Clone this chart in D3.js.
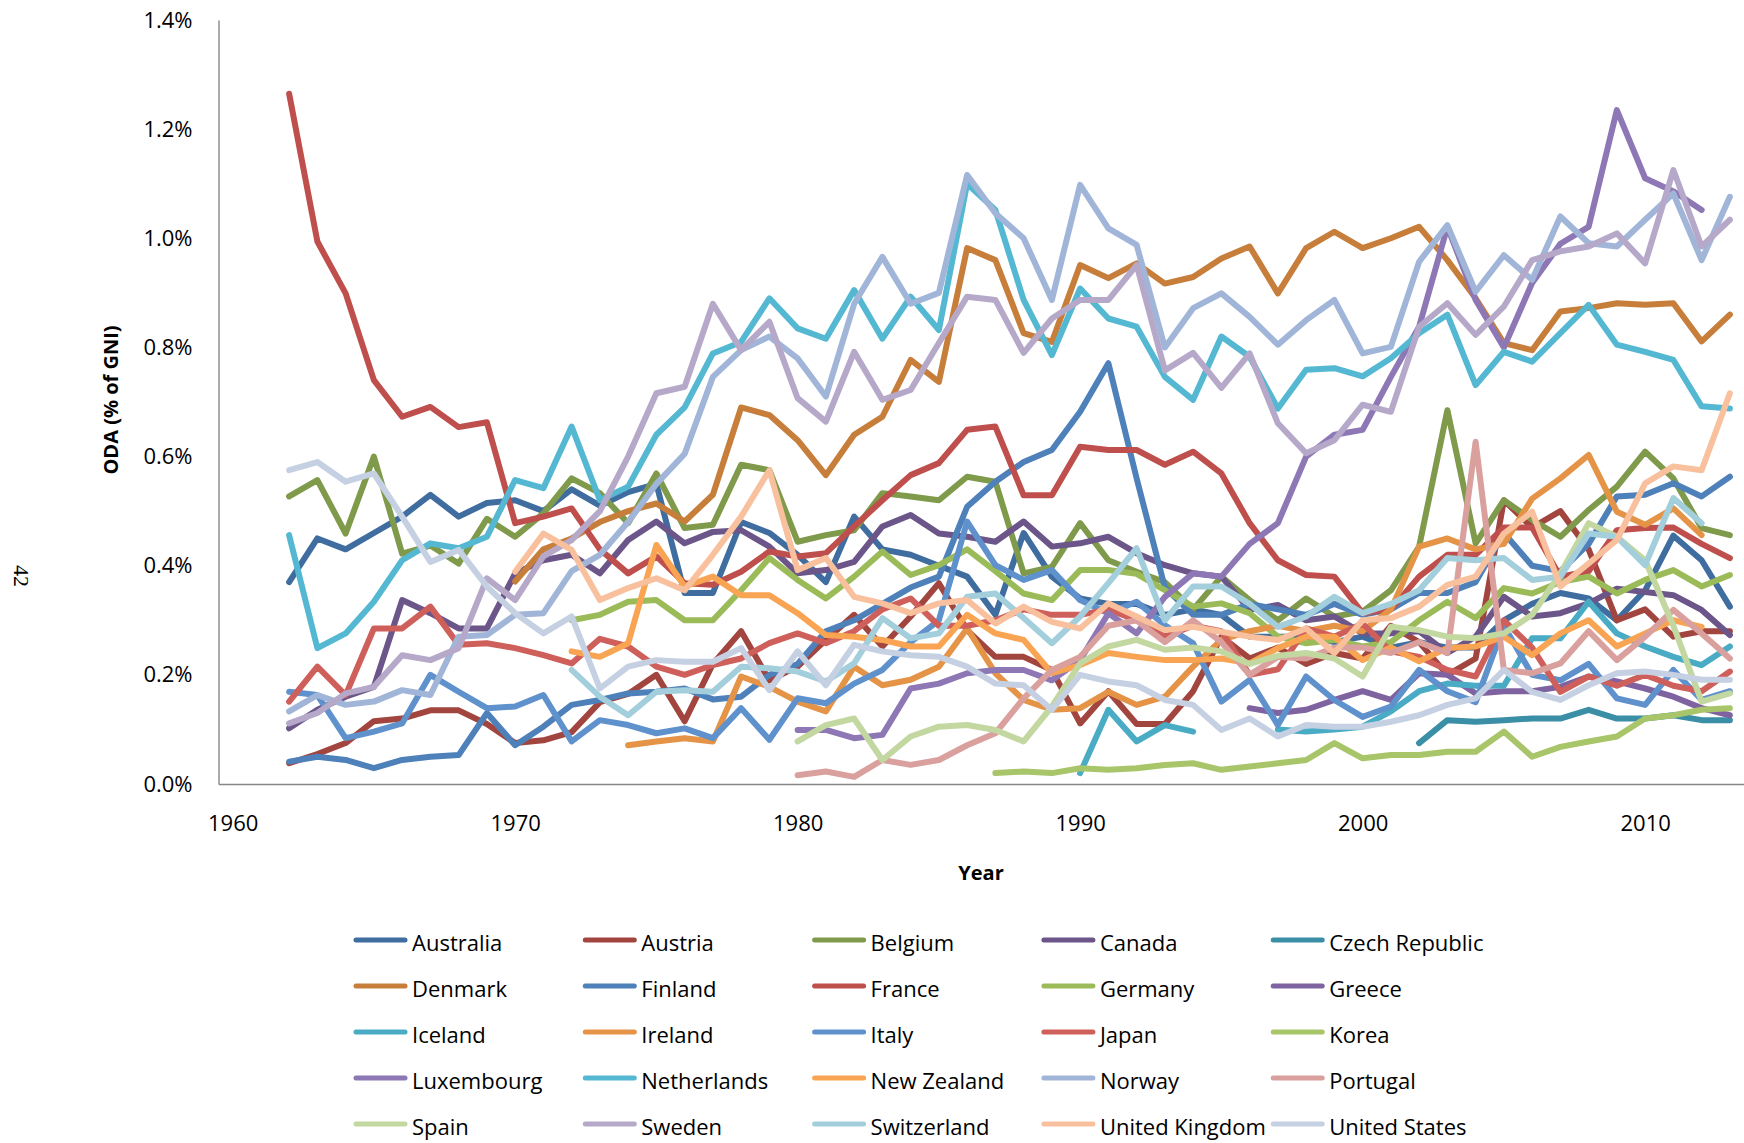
<!DOCTYPE html>
<html>
<head>
<meta charset="utf-8">
<script src="https://cdn.jsdelivr.net/npm/d3@7"></script>
<style>
  body { margin: 0; background: #ffffff; }
  svg { display: block; }
  text { font-family: "Open Sans", "Noto Sans", sans-serif; fill: #000; }
</style>
</head>
<body>
<svg id="chart" width="1744" height="1143"></svg>
<script>
// Net ODA as a share of GNI (%), DAC donors, 1960-2013. null = no data.
const years = [1960,1961,1962,1963,1964,1965,1966,1967,1968,1969,
               1970,1971,1972,1973,1974,1975,1976,1977,1978,1979,
               1980,1981,1982,1983,1984,1985,1986,1987,1988,1989,
               1990,1991,1992,1993,1994,1995,1996,1997,1998,1999,
               2000,2001,2002,2003,2004,2005,2006,2007,2008,2009,
               2010,2011,2012,2013];

const australia = [null,null,0.37,0.45,0.43,0.46,0.49,0.53,0.49,0.515,
  0.52,0.50,0.54,0.51,0.535,0.55,0.35,0.35,0.48,0.46,
  0.42,0.37,0.49,0.43,0.42,0.40,0.38,0.31,0.46,0.38,
  0.34,0.33,0.33,0.31,0.32,0.31,0.27,0.27,0.27,0.26,
  0.27,0.25,0.26,0.25,0.25,0.30,0.33,0.35,0.34,0.30,
  0.355,0.455,0.41,0.325];
const austria = [null,null,0.038,0.055,0.075,0.115,0.12,0.135,0.135,0.11,
  0.075,0.08,0.095,0.15,0.165,0.20,0.115,0.22,0.28,0.19,
  0.215,0.264,0.31,0.252,0.307,0.368,0.282,0.233,0.233,0.209,
  0.111,0.17,0.11,0.11,0.17,0.27,0.23,0.25,0.22,0.24,
  0.23,0.29,0.26,0.20,0.23,0.52,0.47,0.50,0.43,0.30,
  0.32,0.27,0.28,0.28];
const belgium = [null,null,0.527,0.557,0.459,0.60,0.422,0.437,0.404,0.486,
  0.453,0.496,0.56,0.533,0.478,0.569,0.469,0.475,0.585,0.575,
  0.444,0.456,0.465,0.533,0.527,0.52,0.563,0.554,0.386,0.398,
  0.478,0.41,0.389,0.37,0.32,0.38,0.337,0.30,0.34,0.307,
  0.316,0.355,0.435,0.685,0.441,0.52,0.484,0.453,0.502,0.545,
  0.609,0.56,0.469,0.456];
const canada = [null,null,0.102,0.136,0.16,0.178,0.337,0.313,0.285,0.285,
  0.386,0.41,0.42,0.386,0.447,0.481,0.441,0.462,0.465,0.435,
  0.386,0.392,0.407,0.472,0.493,0.459,0.453,0.444,0.481,0.435,
  0.441,0.453,0.423,0.401,0.386,0.38,0.319,0.328,0.30,0.307,
  0.276,0.276,0.28,0.24,0.27,0.343,0.307,0.313,0.331,0.358,
  0.352,0.346,0.319,0.273];
const czechRepublic = [null,null,null,null,null,null,null,null,null,null,
  null,null,null,null,null,null,null,null,null,null,
  null,null,null,null,null,null,null,null,null,null,
  null,null,null,null,null,null,null,null,null,null,
  null,null,0.075,0.117,0.114,0.117,0.12,0.12,0.136,0.12,
  0.12,0.126,0.117,0.117];
const denmark = [null,null,null,null,null,null,null,null,null,null,
  0.371,0.43,0.45,0.48,0.50,0.514,0.481,0.53,0.69,0.676,
  0.63,0.566,0.64,0.673,0.777,0.737,0.982,0.96,0.826,0.81,
  0.951,0.927,0.954,0.917,0.929,0.963,0.985,0.899,0.982,1.012,
  0.982,1.0,1.021,0.96,0.89,0.808,0.795,0.866,0.872,0.881,
  0.878,0.881,0.811,0.86];
const finland = [null,null,0.041,0.05,0.044,0.029,0.044,0.05,0.053,0.13,
  0.071,0.105,0.145,0.154,0.166,0.169,0.175,0.155,0.16,0.20,
  0.22,0.28,0.30,0.33,0.36,0.38,0.508,0.554,0.59,0.612,
  0.682,0.771,0.56,0.36,0.31,0.31,0.33,0.32,0.31,0.33,
  0.31,0.32,0.35,0.35,0.37,0.46,0.40,0.39,0.44,0.527,
  0.53,0.551,0.527,0.563];
const france = [null,null,1.265,0.994,0.899,0.74,0.673,0.691,0.654,0.663,
  0.478,0.49,0.505,0.43,0.386,0.417,0.368,0.365,0.389,0.426,
  0.417,0.423,0.472,0.52,0.566,0.588,0.649,0.655,0.529,0.529,
  0.618,0.612,0.612,0.585,0.609,0.569,0.478,0.41,0.383,0.38,
  0.313,0.32,0.38,0.42,0.42,0.47,0.47,0.38,0.39,0.465,
  0.469,0.47,0.44,0.414];
const germany = [null,null,null,null,null,null,null,null,null,null,
  null,null,0.30,0.31,0.334,0.337,0.30,0.30,0.355,0.414,
  0.374,0.34,0.38,0.426,0.383,0.401,0.43,0.39,0.349,0.337,
  0.392,0.392,0.385,0.355,0.325,0.331,0.313,0.27,0.258,0.264,
  0.252,0.26,0.30,0.334,0.304,0.359,0.349,0.37,0.38,0.349,
  0.374,0.392,0.362,0.383];
const greece = [null,null,null,null,null,null,null,null,null,null,
  null,null,null,null,null,null,null,null,null,null,
  null,null,null,null,null,null,null,null,null,null,
  null,null,null,null,null,null,0.139,0.13,0.136,0.154,
  0.17,0.154,0.203,0.20,0.166,0.17,0.17,0.178,0.197,0.188,
  0.175,0.16,0.139,0.126];
const iceland = [null,null,null,null,null,null,null,null,null,null,
  null,null,null,null,null,null,null,null,null,null,
  null,null,null,null,null,null,null,null,null,null,
  0.02,0.136,0.078,0.108,0.096,null,null,0.10,0.096,0.10,
  0.105,0.133,0.17,0.184,0.18,0.18,0.267,0.267,0.334,0.276,
  0.252,0.233,0.218,0.252];
const ireland = [null,null,null,null,null,null,null,null,null,null,
  null,null,null,null,0.071,0.078,0.084,0.078,0.197,0.178,
  0.151,0.133,0.215,0.181,0.191,0.215,0.285,0.203,0.154,0.136,
  0.139,0.169,0.145,0.16,0.215,0.264,0.28,0.29,0.28,0.29,
  0.28,0.32,0.435,0.45,0.43,0.44,0.523,0.56,0.603,0.499,
  0.475,0.505,0.456,null];
const italy = [null,null,0.169,0.163,0.084,0.096,0.111,0.20,0.169,0.139,
  0.142,0.163,0.078,0.117,0.108,0.093,0.102,0.084,0.139,0.081,
  0.157,0.148,0.184,0.209,0.26,0.30,0.481,0.401,0.374,0.392,
  0.337,0.313,0.334,0.291,0.258,0.151,0.191,0.108,0.197,0.154,
  0.123,0.142,0.209,0.17,0.15,0.29,0.20,0.19,0.22,0.157,
  0.145,0.209,0.154,0.17];
const japan = [null,null,0.151,0.215,0.163,0.285,0.285,0.325,0.255,0.258,
  0.249,0.236,0.221,0.266,0.252,0.215,0.20,0.218,0.23,0.258,
  0.276,0.258,0.28,0.32,0.34,0.29,0.29,0.30,0.32,0.31,
  0.31,0.32,0.30,0.27,0.29,0.28,0.20,0.21,0.285,0.27,
  0.294,0.243,0.233,0.209,0.197,0.30,0.25,0.169,0.197,0.18,
  0.20,0.18,0.17,0.206];
const korea = [null,null,null,null,null,null,null,null,null,null,
  null,null,null,null,null,null,null,null,null,null,
  null,null,null,null,null,null,null,0.02,0.023,0.02,
  0.029,0.026,0.029,0.035,0.038,0.026,0.032,0.038,0.044,0.075,
  0.047,0.053,0.053,0.059,0.059,0.096,0.05,0.068,0.078,0.087,
  0.12,0.126,0.136,0.139];
const luxembourg = [null,null,null,null,null,null,null,null,null,null,
  null,null,null,null,null,null,null,null,null,null,
  0.099,0.099,0.084,0.09,0.175,0.184,0.203,0.209,0.209,0.19,
  0.227,0.313,0.276,0.343,0.386,0.38,0.44,0.478,0.60,0.64,
  0.649,0.746,0.838,1.021,0.887,0.80,0.918,0.99,1.021,1.235,
  1.11,1.086,1.052,null];
const netherlands = [null,null,0.456,0.249,0.276,0.334,0.41,0.441,0.432,0.453,
  0.557,0.542,0.655,0.52,0.545,0.64,0.69,0.789,0.81,0.89,
  0.835,0.816,0.905,0.816,0.893,0.832,1.10,1.052,0.887,0.786,
  0.908,0.853,0.838,0.746,0.704,0.82,0.783,0.688,0.759,0.762,
  0.747,0.78,0.826,0.86,0.731,0.792,0.774,0.826,0.878,0.805,
  0.792,0.777,0.692,0.688];
const newZealand = [null,null,null,null,null,null,null,null,null,null,
  null,null,0.243,0.233,0.258,0.438,0.362,0.38,0.346,0.346,
  0.313,0.273,0.27,0.264,0.252,0.252,0.31,0.276,0.264,0.203,
  0.218,0.24,0.233,0.227,0.227,0.23,0.221,0.249,0.27,0.27,
  0.227,0.25,0.225,0.249,0.252,0.27,0.236,0.276,0.30,0.252,
  0.276,0.30,0.288,null];
const norway = [null,null,0.133,0.163,0.145,0.151,0.172,0.163,0.27,0.273,
  0.31,0.313,0.39,0.42,0.48,0.55,0.605,0.746,0.795,0.82,
  0.78,0.71,0.88,0.966,0.88,0.90,1.116,1.046,1.0,0.887,
  1.098,1.018,0.988,0.80,0.872,0.899,0.856,0.805,0.85,0.887,
  0.789,0.801,0.957,1.024,0.902,0.969,0.924,1.04,0.991,0.985,
  1.034,1.082,0.96,1.076];
const portugal = [null,null,null,null,null,null,null,null,null,null,
  null,null,null,null,null,null,null,null,null,null,
  0.016,0.023,0.013,0.044,0.035,0.044,0.071,0.093,0.157,0.209,
  0.233,0.29,0.30,0.26,0.30,0.26,0.20,0.233,0.23,0.25,
  0.25,0.24,0.26,0.24,0.627,0.209,0.203,0.221,0.28,0.227,
  0.27,0.319,0.276,0.23];
const spain = [null,null,null,null,null,null,null,null,null,null,
  null,null,null,null,null,null,null,null,null,null,
  0.078,0.108,0.12,0.044,0.087,0.105,0.108,0.099,0.078,0.142,
  0.221,0.252,0.264,0.246,0.25,0.243,0.22,0.235,0.24,0.23,
  0.197,0.288,0.282,0.27,0.267,0.276,0.31,0.386,0.478,0.453,
  0.41,0.29,0.151,0.166];
const sweden = [null,null,0.111,0.13,0.166,0.178,0.236,0.227,0.249,0.377,
  0.337,0.417,0.447,0.50,0.60,0.716,0.728,0.88,0.795,0.847,
  0.707,0.664,0.792,0.704,0.722,0.808,0.893,0.887,0.79,0.853,
  0.887,0.887,0.951,0.758,0.79,0.726,0.789,0.661,0.606,0.63,
  0.695,0.682,0.838,0.881,0.823,0.875,0.96,0.976,0.985,1.009,
  0.954,1.125,0.985,1.034];
const switzerland = [null,null,null,null,null,null,null,null,null,null,
  null,null,0.209,0.16,0.126,0.169,0.172,0.169,0.215,0.212,
  0.206,0.188,0.221,0.304,0.267,0.276,0.343,0.349,0.304,0.258,
  0.307,0.368,0.432,0.30,0.362,0.362,0.33,0.288,0.307,0.343,
  0.313,0.33,0.355,0.414,0.41,0.414,0.374,0.38,0.459,0.453,
  0.401,0.524,0.478,null];
const unitedKingdom = [null,null,null,null,null,null,null,null,null,null,
  0.389,0.459,0.429,0.337,0.359,0.377,0.355,0.42,0.49,0.575,
  0.392,0.414,0.343,0.331,0.313,0.331,0.337,0.294,0.325,0.297,
  0.285,0.331,0.307,0.282,0.288,0.279,0.27,0.264,0.285,0.24,
  0.30,0.304,0.325,0.365,0.38,0.459,0.499,0.362,0.404,0.447,
  0.551,0.582,0.575,0.716];
const unitedStates = [null,null,0.575,0.59,0.554,0.569,0.49,0.407,0.429,0.362,
  0.313,0.276,0.307,0.175,0.215,0.227,0.224,0.224,0.249,0.172,
  0.243,0.181,0.255,0.243,0.236,0.233,0.215,0.184,0.181,0.136,
  0.20,0.188,0.181,0.154,0.145,0.099,0.12,0.087,0.108,0.105,
  0.105,0.114,0.126,0.145,0.157,0.209,0.169,0.154,0.181,0.203,
  0.206,0.20,0.191,0.191];

const countries = ["Australia","Austria","Belgium","Canada","Czech Republic",
  "Denmark","Finland","France","Germany","Greece",
  "Iceland","Ireland","Italy","Japan","Korea",
  "Luxembourg","Netherlands","New Zealand","Norway","Portugal",
  "Spain","Sweden","Switzerland","United Kingdom","United States"];
const seriesValues = [australia, austria, belgium, canada, czechRepublic,
  denmark, finland, france, germany, greece,
  iceland, ireland, italy, japan, korea,
  luxembourg, netherlands, newZealand, norway, portugal,
  spain, sweden, switzerland, unitedKingdom, unitedStates];
const colours = ["#3f6d9f","#a2453f","#7f9a4b","#6b5589","#3a8ea5",
  "#c77e3a","#4e80ba","#be4f4c","#9bbb59","#7f63a1",
  "#4aabc5","#e59447","#5f91cc","#cf5f5a","#a8c56a",
  "#8e77b5","#55b8d2","#f9a452","#a1b5d8","#d9a09e",
  "#c3d7a1","#b5a8c9","#a3cedc","#f9c09d","#c5d0e3"];

const yTickValues = [0, 0.2, 0.4, 0.6, 0.8, 1.0, 1.2, 1.4];
const xTickValues = [1960, 1970, 1980, 1990, 2000, 2010];

const svg = d3.select("#chart");
const axisColour = "#868686";

// Category axis: each year occupies one slot, points sit mid-slot.
const x = d3.scaleLinear().domain([1959.5, 2013.5]).range([218.5, 1744]);
const y = d3.scaleLinear().domain([0, 1.4]).range([784, 20]);

// Series lines
const line = d3.line()
  .defined(d => d != null)
  .x((d, i) => x(years[i]))
  .y(d => y(d));

svg.append("g").selectAll("path")
  .data(seriesValues)
  .join("path")
  .attr("d", d => line(d))
  .attr("fill", "none")
  .attr("stroke", (d, i) => colours[i])
  .attr("stroke-width", 6)
  .attr("stroke-linejoin", "round")
  .attr("stroke-linecap", "round");

// Axes
const yAxis = svg.append("g")
  .attr("transform", `translate(${x.range()[0]},0)`)
  .call(d3.axisLeft(y).tickValues(yTickValues).tickSize(0).tickSizeOuter(0)
    .tickPadding(26).tickFormat(d => d.toFixed(1) + "%"));
const xAxis = svg.append("g")
  .attr("transform", `translate(0,${y(0)})`)
  .call(d3.axisBottom(x).tickValues(xTickValues).tickSize(0).tickSizeOuter(0)
    .tickPadding(31).tickFormat(d3.format("d")));

[yAxis, xAxis].forEach(g => {
  g.select(".domain").attr("stroke", axisColour).attr("stroke-width", 1.4);
  g.selectAll("text")
    .style("font-family", '"Open Sans", sans-serif')
    .style("font-size", "22px")
    .attr("fill", "#000");
});

// Axis titles
svg.append("text")
  .attr("transform", "translate(111,400) rotate(-90)")
  .attr("text-anchor", "middle")
  .attr("dy", "0.35em")
  .style("font-size", "20px")
  .style("font-weight", "bold")
  .text("ODA (% of GNI)");

svg.append("text")
  .attr("x", 981).attr("y", 873)
  .attr("text-anchor", "middle")
  .attr("dy", "0.35em")
  .style("font-size", "20px")
  .style("font-weight", "bold")
  .text("Year");

// Page number in the margin
svg.append("text")
  .attr("transform", "translate(22,576) rotate(90)")
  .attr("text-anchor", "middle")
  .attr("dy", "0.35em")
  .style("font-family", '"Liberation Serif", serif')
  .style("font-size", "22px")
  .text("42");

// Legend: five columns, filled row by row
const legend = svg.append("g").selectAll("g")
  .data(countries)
  .join("g")
  .attr("transform", (d, i) => `translate(${356 + (i % 5) * 229.3},${940 + Math.floor(i / 5) * 46})`);

legend.append("line")
  .attr("x1", 0).attr("x2", 49)
  .attr("y1", 0).attr("y2", 0)
  .attr("stroke", (d, i) => colours[i])
  .attr("stroke-width", 5)
  .attr("stroke-linecap", "round");

legend.append("text")
  .attr("x", 56).attr("y", 3)
  .attr("dy", "0.35em")
  .style("font-size", "22px")
  .text(d => d);
</script>
</body>
</html>
